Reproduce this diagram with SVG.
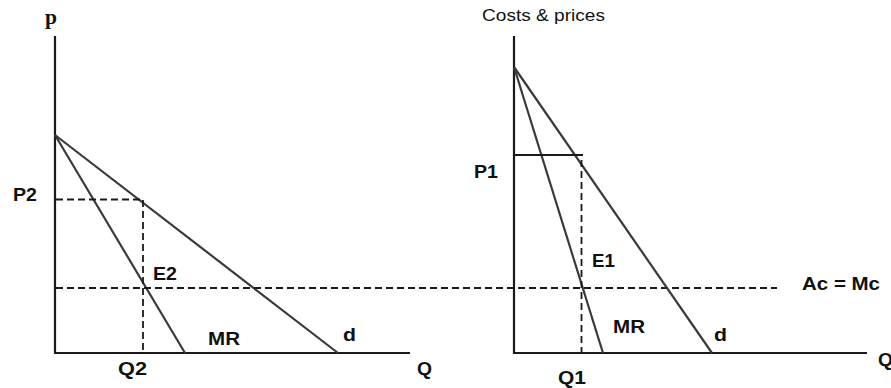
<svg xmlns="http://www.w3.org/2000/svg" width="891" height="388" viewBox="0 0 891 388">
<style>
.ax{stroke:#1a1a1a;stroke-width:2.2;fill:none}
.cv{stroke:#3a3a3a;stroke-width:2.2;fill:none}
.ds{stroke:#1a1a1a;stroke-width:1.8;fill:none;stroke-dasharray:7 4}
.lb{font-family:"Liberation Sans",Arial,sans-serif;font-weight:bold;font-size:18.5px;fill:#111}
.sf{font-family:"Liberation Serif","Times New Roman",serif;font-weight:bold;font-size:21px;fill:#111}
.nt{font-family:"Liberation Sans",Arial,sans-serif;font-size:16.5px;fill:#111}
</style>
<rect width="891" height="388" fill="#fff"/>
<g id="left-panel">
  <g id="left-axes">
    <line class="ax" x1="55" y1="36" x2="55" y2="354"/>
    <line class="ax" x1="54" y1="353" x2="410" y2="353"/>
  </g>
  <g id="left-curves">
    <line class="cv" x1="55" y1="135" x2="185" y2="353"/>
    <line class="cv" x1="55" y1="135" x2="338" y2="353"/>
  </g>
  <g id="left-dashed">
    <line class="ds" x1="56" y1="199.5" x2="143" y2="199.5"/>
    <line class="ds" x1="143" y1="200" x2="143" y2="352"/>
  </g>
  <g id="left-labels">
    <text class="sf" x="45" y="24" textLength="12" lengthAdjust="spacingAndGlyphs">p</text>
    <text class="lb" x="13" y="201" textLength="24" lengthAdjust="spacingAndGlyphs">P2</text>
    <text class="lb" x="153" y="280" textLength="24" lengthAdjust="spacingAndGlyphs">E2</text>
    <text class="lb" x="208" y="345" textLength="32" lengthAdjust="spacingAndGlyphs">MR</text>
    <text class="lb" x="343" y="341" textLength="13" lengthAdjust="spacingAndGlyphs">d</text>
    <text class="lb" x="118" y="375" textLength="29" lengthAdjust="spacingAndGlyphs">Q2</text>
    <text class="lb" x="417" y="375" textLength="15" lengthAdjust="spacingAndGlyphs">Q</text>
  </g>
</g>
<g id="cost-line">
  <line class="ds" x1="56" y1="288" x2="777" y2="288"/>
  <text class="lb" x="802" y="290" textLength="78" lengthAdjust="spacingAndGlyphs">Ac = Mc</text>
</g>
<g id="right-panel">
  <g id="right-axes">
    <line class="ax" x1="514" y1="36" x2="514" y2="354"/>
    <line class="ax" x1="513" y1="353" x2="867" y2="353"/>
  </g>
  <g id="right-curves">
    <line class="cv" x1="514" y1="67" x2="603" y2="353"/>
    <line class="cv" x1="514" y1="67" x2="712" y2="353"/>
    <line class="ax" x1="514" y1="155" x2="583" y2="155"/>
  </g>
  <g id="right-dashed">
    <line class="ds" x1="581.5" y1="160" x2="581.5" y2="352"/>
  </g>
  <g id="right-labels">
    <text class="nt" x="482" y="21" textLength="123" lengthAdjust="spacingAndGlyphs">Costs &amp; prices</text>
    <text class="lb" x="474" y="178" textLength="24" lengthAdjust="spacingAndGlyphs">P1</text>
    <text class="lb" x="592" y="267" textLength="23" lengthAdjust="spacingAndGlyphs">E1</text>
    <text class="lb" x="613" y="333" textLength="32" lengthAdjust="spacingAndGlyphs">MR</text>
    <text class="lb" x="714" y="341" textLength="13" lengthAdjust="spacingAndGlyphs">d</text>
    <text class="lb" x="558" y="384" textLength="28" lengthAdjust="spacingAndGlyphs">Q1</text>
    <text class="lb" x="878" y="366" textLength="15" lengthAdjust="spacingAndGlyphs">Q</text>
  </g>
</g>
</svg>
